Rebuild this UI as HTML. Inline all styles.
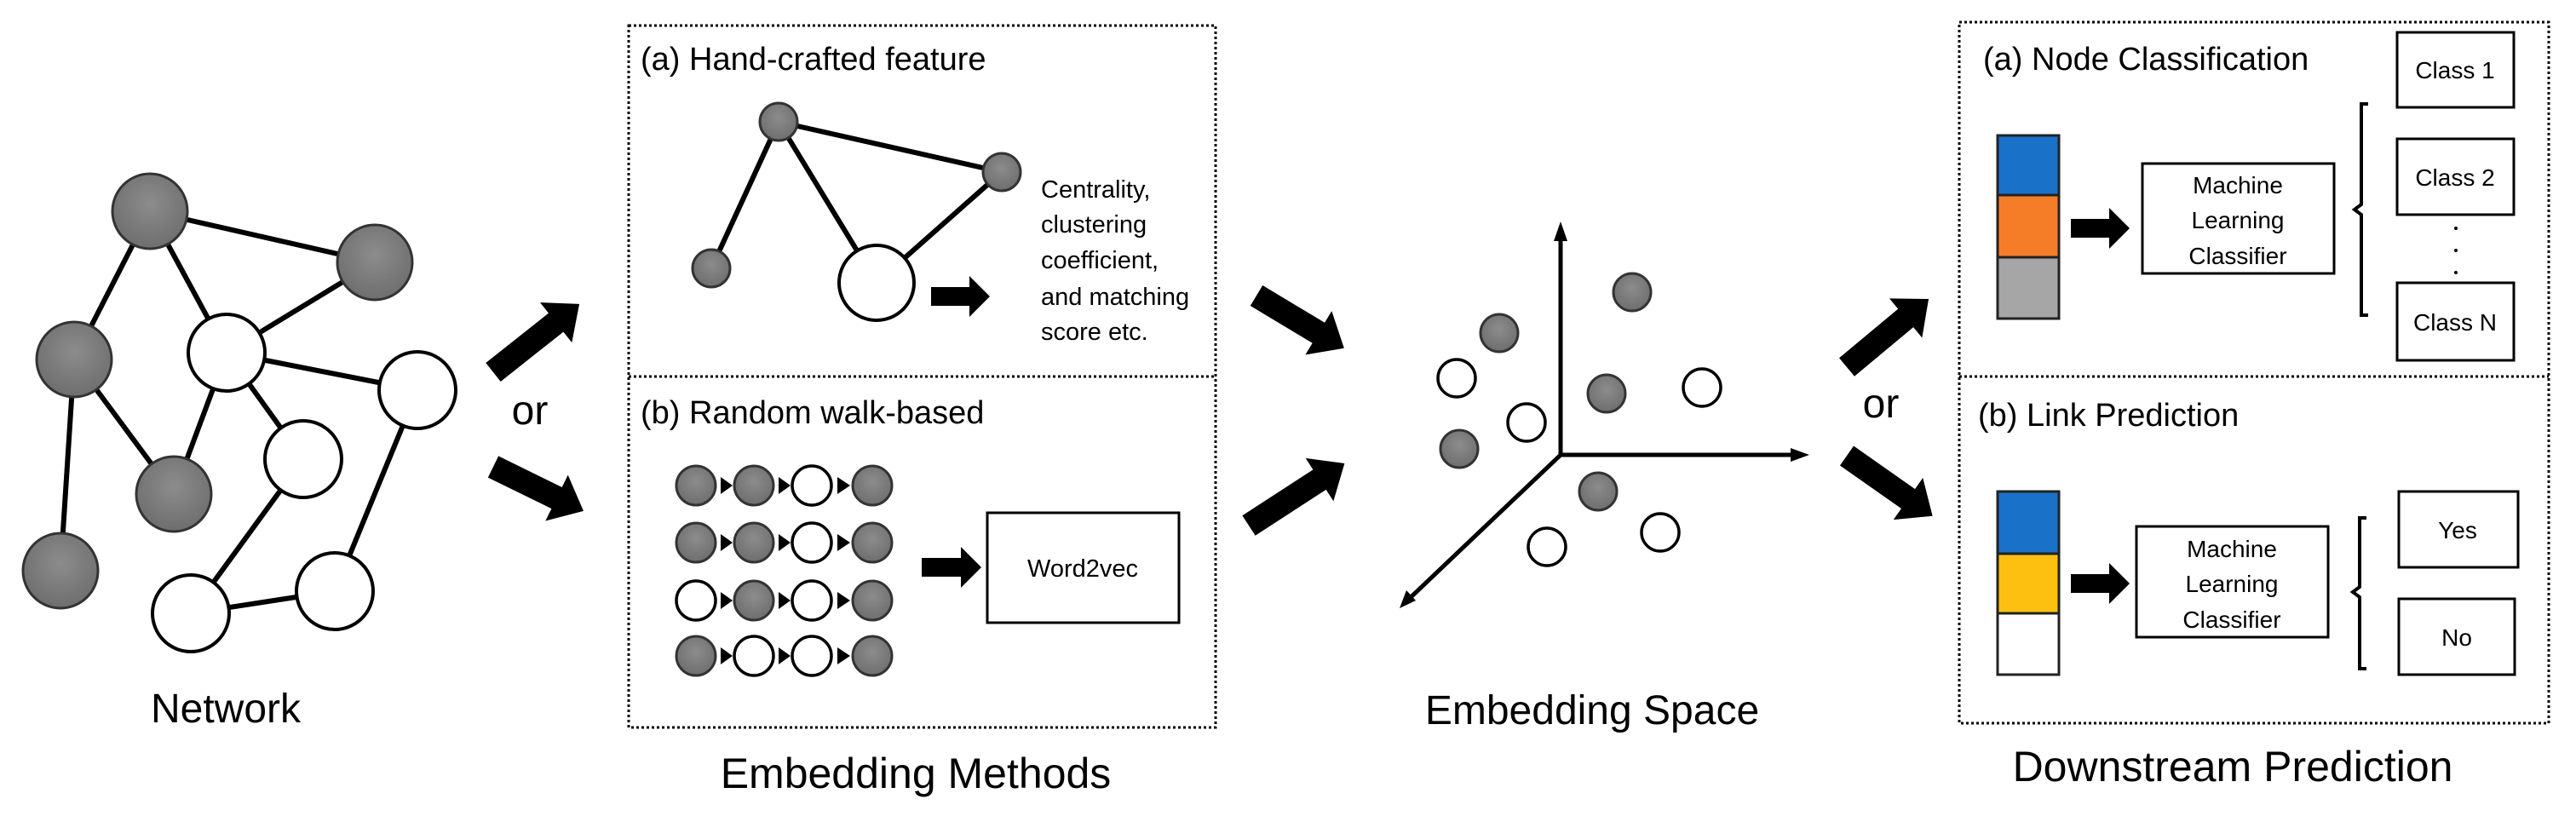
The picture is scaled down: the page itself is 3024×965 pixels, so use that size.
<!DOCTYPE html>
<html><head><meta charset="utf-8"><style>
html,body{margin:0;padding:0;background:#fff;}
svg{display:block;}
text{font-family:"Liberation Sans",sans-serif;fill:#000;}
</style></head><body>
<svg width="3024" height="965" viewBox="0 0 3024 965" xmlns="http://www.w3.org/2000/svg">
<defs>
<radialGradient id="g" cx="50%" cy="40%" r="60%"><stop offset="0" stop-color="#8c8c8c"/><stop offset="1" stop-color="#6e6e6e"/></radialGradient>
</defs>
<g stroke="#000" stroke-width="6" fill="none">
<line x1="176" y1="248" x2="440" y2="308"/><line x1="176" y1="248" x2="87" y2="422"/>
<line x1="176" y1="248" x2="266" y2="414"/><line x1="440" y1="308" x2="266" y2="414"/>
<line x1="87" y1="422" x2="71" y2="670"/><line x1="87" y1="422" x2="204" y2="580"/>
<line x1="266" y1="414" x2="204" y2="580"/><line x1="266" y1="414" x2="490" y2="458"/>
<line x1="266" y1="414" x2="356" y2="539"/><line x1="356" y1="539" x2="224" y2="720"/>
<line x1="224" y1="720" x2="393" y2="694"/><line x1="393" y1="694" x2="490" y2="458"/>
</g>
<g stroke="#333" stroke-width="3">
<circle cx="176" cy="248" r="44" fill="url(#g)"/><circle cx="440" cy="308" r="44" fill="url(#g)"/>
<circle cx="87" cy="422" r="44" fill="url(#g)"/><circle cx="204" cy="580" r="44" fill="url(#g)"/>
<circle cx="71" cy="670" r="44" fill="url(#g)"/>
</g>
<g stroke="#000" stroke-width="4" fill="#fff">
<circle cx="266" cy="414" r="45"/><circle cx="490" cy="458" r="45"/><circle cx="356" cy="539" r="45"/>
<circle cx="224" cy="720" r="45"/><circle cx="393" cy="694" r="45"/>
</g>
<text x="265" y="848" font-size="48" text-anchor="middle">Network</text>
<text x="622" y="498" font-size="48" text-anchor="middle">or</text>

<!-- big arrows -->
<g fill="#000">
<polygon transform="translate(579,437) rotate(-38.4)" points="0,-14 94,-14 94,-30 129,0 94,30 94,14 0,14"/>
<polygon transform="translate(579,548) rotate(26.1)" points="0,-14 83,-14 83,-30 118,0 83,30 83,14 0,14"/>
<polygon transform="translate(1475,347) rotate(31)" points="0,-14 85,-14 85,-30 120,0 85,30 85,14 0,14"/>
<polygon transform="translate(1466,617) rotate(-33)" points="0,-14 99,-14 99,-30 134,0 99,30 99,14 0,14"/>
<polygon transform="translate(2168,431) rotate(-39.8)" points="0,-14 90,-14 90,-30 125,0 90,30 90,14 0,14"/>
<polygon transform="translate(2168,535) rotate(35.1)" points="0,-14 88,-14 88,-30 123,0 88,30 88,14 0,14"/>
<!-- small arrows -->
<polygon points="1093,337 1138,337 1138,324 1162,348 1138,372 1138,359 1093,359"/>
<polygon points="1082,655 1128,655 1128,642 1152,666 1128,690 1128,677 1082,677"/>
<polygon points="2431,257 2476,257 2476,244 2500,268 2476,292 2476,279 2431,279"/>
<polygon points="2431,674 2476,674 2476,661 2500,685 2476,709 2476,696 2431,696"/>
</g>

<!-- Embedding methods box -->
<g fill="none" stroke="#000" stroke-width="3" stroke-dasharray="3,3">
<rect x="738" y="30" width="689" height="824"/>
<line x1="738" y1="442" x2="1427" y2="442"/>
<rect x="2300" y="26" width="692" height="823"/>
<line x1="2300" y1="442" x2="2992" y2="442"/>
</g>
<text x="752" y="82" font-size="38">(a) Hand-crafted feature</text>
<g stroke="#000" stroke-width="6">
<line x1="914" y1="143" x2="835" y2="315"/><line x1="914" y1="143" x2="1176" y2="202"/>
<line x1="914" y1="143" x2="1029" y2="332"/><line x1="1176" y1="202" x2="1029" y2="332"/>
</g>
<g stroke="#333" stroke-width="3" fill="url(#g)">
<circle cx="914" cy="143" r="22"/><circle cx="1176" cy="202" r="22"/><circle cx="835" cy="315" r="22"/>
</g>
<circle cx="1029" cy="332" r="44" fill="#fff" stroke="#000" stroke-width="4"/>
<g font-size="29">
<text x="1222" y="232">Centrality,</text><text x="1222" y="273">clustering</text>
<text x="1222" y="315">coefficient,</text><text x="1222" y="358">and matching</text>
<text x="1222" y="399">score etc.</text>
</g>
<text x="752" y="497" font-size="38">(b) Random walk-based</text>
<g fill="#000">
<polygon points="846,560 860,570 846,580"/><polygon points="914,560 928,570 914,580"/><polygon points="983,560 998,570 983,580"/>
<polygon points="846,627 860,637 846,647"/><polygon points="914,627 928,637 914,647"/><polygon points="983,627 998,637 983,647"/>
<polygon points="846,695 860,705 846,715"/><polygon points="914,695 928,705 914,715"/><polygon points="983,695 998,705 983,715"/>
<polygon points="846,760 860,770 846,780"/><polygon points="914,760 928,770 914,780"/><polygon points="983,760 998,770 983,780"/>
</g>
<g stroke="#333" stroke-width="3" fill="url(#g)">
<circle cx="817" cy="570" r="23"/><circle cx="885" cy="570" r="23"/><circle cx="1024" cy="570" r="23"/>
<circle cx="817" cy="637" r="23"/><circle cx="885" cy="637" r="23"/><circle cx="1024" cy="637" r="23"/>
<circle cx="885" cy="705" r="23"/><circle cx="1024" cy="705" r="23"/>
<circle cx="817" cy="770" r="23"/><circle cx="1024" cy="770" r="23"/>
</g>
<g stroke="#000" stroke-width="3.5" fill="#fff">
<circle cx="953" cy="570" r="23"/><circle cx="953" cy="637" r="23"/>
<circle cx="817" cy="705" r="23"/><circle cx="953" cy="705" r="23"/>
<circle cx="885" cy="770" r="23"/><circle cx="953" cy="770" r="23"/>
</g>
<rect x="1159" y="602" width="225" height="129" fill="#fff" stroke="#000" stroke-width="3"/>
<text x="1271" y="677" font-size="29" text-anchor="middle">Word2vec</text>
<text x="1075" y="925" font-size="50" text-anchor="middle">Embedding Methods</text>

<!-- Embedding space -->
<g stroke="#000" stroke-width="5" fill="none">
<line x1="1832" y1="534" x2="1832" y2="272"/><line x1="1832" y1="534" x2="2110" y2="534"/>
<line x1="1832" y1="534" x2="1652" y2="705"/>
</g>
<g fill="#000">
<polygon points="1832,260 1824,283 1840,283"/><polygon points="2124,534 2102,526 2102,542"/>
<polygon points="1643,714 1651,693 1662,705"/>
</g>
<g stroke="#333" stroke-width="3" fill="url(#g)">
<circle cx="1916" cy="343" r="22"/><circle cx="1760" cy="391" r="22"/><circle cx="1886" cy="462" r="22"/>
<circle cx="1713" cy="527" r="22"/><circle cx="1876" cy="577" r="22"/>
</g>
<g stroke="#000" stroke-width="3.5" fill="#fff">
<circle cx="1710" cy="444" r="22"/><circle cx="1998" cy="455" r="22"/><circle cx="1792" cy="496" r="22"/>
<circle cx="1949" cy="625" r="22"/><circle cx="1816" cy="642" r="22"/>
</g>
<text x="1869" y="850" font-size="48" text-anchor="middle">Embedding Space</text>
<text x="2208" y="490" font-size="48" text-anchor="middle">or</text>

<!-- Downstream -->
<text x="2328" y="82" font-size="38">(a) Node Classification</text>
<rect x="2345" y="159" width="72" height="70" fill="#1a72c8"/>
<rect x="2345" y="229" width="72" height="73" fill="#f57d28"/>
<rect x="2345" y="302" width="72" height="72" fill="#a6a6a6"/>
<g stroke="#222" stroke-width="3" fill="none">
<rect x="2345" y="159" width="72" height="215"/><line x1="2345" y1="229" x2="2417" y2="229"/><line x1="2345" y1="302" x2="2417" y2="302"/>
</g>
<rect x="2515" y="192" width="225" height="129" fill="#fff" stroke="#000" stroke-width="3"/>
<g font-size="28" text-anchor="middle">
<text x="2627" y="227">Machine</text><text x="2627" y="268">Learning</text><text x="2627" y="310">Classifier</text>
</g>
<path d="M2780,122 L2772,122 L2772,240 L2764,246 L2772,252 L2772,370 L2780,370" fill="none" stroke="#000" stroke-width="4"/>
<g fill="#fff" stroke="#000" stroke-width="3">
<rect x="2814" y="38" width="137" height="88"/><rect x="2814" y="163" width="137" height="89"/><rect x="2814" y="332" width="137" height="91"/>
</g>
<g font-size="28" text-anchor="middle">
<text x="2882" y="92">Class 1</text><text x="2882" y="218">Class 2</text><text x="2882" y="388">Class N</text>
</g>
<g fill="#000"><circle cx="2883" cy="268" r="2"/><circle cx="2883" cy="294" r="2"/><circle cx="2883" cy="320" r="2"/></g>

<text x="2322" y="500" font-size="38">(b) Link Prediction</text>
<rect x="2345" y="577" width="72" height="73" fill="#1a72c8"/>
<rect x="2345" y="650" width="72" height="70" fill="#fdc010"/>
<g stroke="#222" stroke-width="3" fill="none">
<rect x="2345" y="577" width="72" height="215"/><line x1="2345" y1="650" x2="2417" y2="650"/><line x1="2345" y1="720" x2="2417" y2="720"/>
</g>
<rect x="2508" y="618" width="225" height="130" fill="#fff" stroke="#000" stroke-width="3"/>
<g font-size="28" text-anchor="middle">
<text x="2620" y="654">Machine</text><text x="2620" y="695">Learning</text><text x="2620" y="737">Classifier</text>
</g>
<path d="M2778,608 L2770,608 L2770,689 L2762,695 L2770,701 L2770,785 L2778,785" fill="none" stroke="#000" stroke-width="4"/>
<g fill="#fff" stroke="#000" stroke-width="3">
<rect x="2816" y="577" width="140" height="89"/><rect x="2816" y="703" width="136" height="89"/>
</g>
<g font-size="28" text-anchor="middle">
<text x="2885" y="632">Yes</text><text x="2884" y="758">No</text>
</g>
<text x="2621" y="917" font-size="50" text-anchor="middle">Downstream Prediction</text>
</svg>
</body></html>
